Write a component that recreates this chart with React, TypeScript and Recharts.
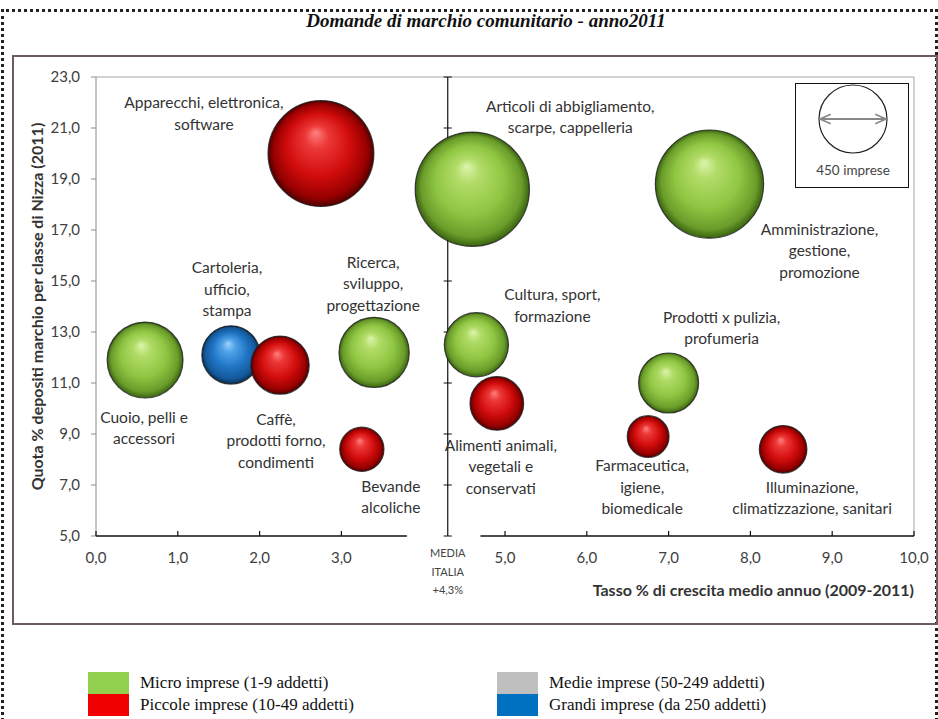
import React from "react";
import {
  ScatterChart,
  Scatter,
  XAxis,
  YAxis,
  ZAxis,
  ReferenceLine,
  LabelList,
  Label,
} from "recharts";

// growth: tasso % di crescita medio annuo 2009-2011
// share: quota % depositi marchio per classe di Nizza (2011)
// firms: numero di imprese (area della bolla)
const microImprese = [
  { name: "Articoli di abbigliamento,\nscarpe, cappelleria", growth: 4.6, share: 18.6, firms: 1270 },
  { name: "Amministrazione,\ngestione,\npromozione", growth: 7.5, share: 18.8, firms: 1140 },
  { name: "Cuoio, pelli e\naccessori", growth: 0.6, share: 11.9, firms: 560 },
  { name: "Ricerca,\nsviluppo,\nprogettazione", growth: 3.4, share: 12.2, firms: 480 },
  { name: "Cultura, sport,\nformazione", growth: 4.65, share: 12.5, firms: 400 },
  { name: "Prodotti x pulizia,\nprofumeria", growth: 7.0, share: 11.0, firms: 350 },
];

const piccoleImprese = [
  { name: "Apparecchi, elettronica,\nsoftware", growth: 2.75, share: 20.0, firms: 1090 },
  { name: "Caffè,\nprodotti forno,\ncondimenti", growth: 2.25, share: 11.7, firms: 330 },
  { name: "Bevande\nalcoliche", growth: 3.25, share: 8.4, firms: 190 },
  { name: "Alimenti animali,\nvegetali e\nconservati", growth: 4.9, share: 10.2, firms: 280 },
  { name: "Farmaceutica,\nigiene,\nbiomedicale", growth: 6.75, share: 8.9, firms: 170 },
  { name: "Illuminazione,\nclimatizzazione, sanitari", growth: 8.4, share: 8.4, firms: 220 },
];

const grandiImprese = [
  { name: "Cartoleria,\nufficio,\nstampa", growth: 1.65, share: 12.1, firms: 330 },
];

const MEDIA_ITALIA = 4.3;
const xTicks = [0, 1, 2, 3, MEDIA_ITALIA, 5, 6, 7, 8, 9, 10];
const yTicks = [5, 7, 9, 11, 13, 15, 17, 19, 21, 23];

// label placement (dx, dy of first line from bubble centre), same order as data
const microLabelPos = [[98, -83], [110, 45], [-1, 57], [-1, -90], [76, -50], [53, -66]];
const piccoleLabelPos = [[-117, -51], [-4, 54], [29, 37], [4, 42], [-6, 29], [29, 38]];
const grandiLabelPos = [[-4, -87]];

const legendItems = [
  { label: "Micro imprese (1-9 addetti)", color: "#92d050" },
  { label: "Piccole imprese (10-49 addetti)", color: "#f00000" },
  { label: "Medie imprese (50-249 addetti)", color: "#bfbfbf" },
  { label: "Grandi imprese (da 250 addetti)", color: "#0070c0" },
];

// bubble key: 450 imprese
const KEY_FIRMS = 450;
const KEY_RADIUS = 34;
const KEY_AREA = Math.PI * KEY_RADIUS * KEY_RADIUS;

const SANS = "Lato, 'Open Sans', sans-serif";
const SERIF = "'Liberation Serif', 'DejaVu Serif', serif";

const fmt = (v: number) => v.toFixed(1).replace(".", ",");

const sphere = (tone: string) => (props: any) => {
  const { cx, cy } = props;
  const r = props.width ? props.width / 2 : Math.sqrt(props.size / Math.PI);
  return (
    <circle
      cx={cx}
      cy={cy}
      r={r}
      fill={`url(#sphere-${tone})`}
      stroke="#1c1c1c"
      strokeOpacity={0.8}
      strokeWidth={1.2}
    />
  );
};

const bubbleLabel = (offsets: number[][]) => (props: any) => {
  const { index, value } = props;
  const vb = props.viewBox ?? props;
  const cx = vb.x + vb.width / 2;
  const cy = vb.y + vb.height / 2;
  const [dx, dy] = offsets[index] ?? [0, 0];
  const lines = String(value).split("\n");
  return (
    <text textAnchor="middle" fontFamily={SANS} fontSize={15.5} fill="#333">
      {lines.map((line, i) => (
        <tspan key={i} x={cx + dx} y={cy + dy + i * 21.5 + 5.5}>
          {line}
        </tspan>
      ))}
    </text>
  );
};

const XTick = (props: any) => {
  const { x, y, payload } = props;
  if (payload.value === MEDIA_ITALIA) {
    return (
      <text textAnchor="middle" fontFamily={SANS} fontSize={11} fill="#444">
        <tspan x={x} y={y + 21}>MEDIA</tspan>
        <tspan x={x} y={y + 40}>ITALIA</tspan>
        <tspan x={x} y={y + 58}>+4,3%</tspan>
      </text>
    );
  }
  return (
    <g>
      <line x1={x} x2={x} y1={y - 5} y2={y} stroke="#111" strokeWidth={1.2} />
      <text x={x} y={y + 27} textAnchor="middle" fontFamily={SANS} fontSize={15} fill="#404040">
        {fmt(payload.value)}
      </text>
    </g>
  );
};

const xTitle = (props: any) => {
  const vb = props.viewBox;
  return (
    <text
      x={vb.x + vb.width}
      y={vb.y + 60}
      textAnchor="end"
      fontFamily={SANS}
      fontSize={16}
      fontWeight={700}
      fill="#333"
    >
      Tasso % di crescita medio annuo (2009-2011)
    </text>
  );
};

const yTitle = (props: any) => {
  const vb = props.viewBox;
  const x = vb.x + 7;
  const y = vb.y + vb.height / 2;
  return (
    <text
      x={x}
      y={y}
      transform={`rotate(-90, ${x}, ${y})`}
      textAnchor="middle"
      fontFamily={SANS}
      fontSize={16}
      fontWeight={700}
      fill="#333"
    >
      Quota % depositi marchio per classe di Nizza (2011)
    </text>
  );
};

const sphereStops: Record<string, string[]> = {
  green: ["#dcf5ac", "#b2dc68", "#8fc642", "#6a9c2a", "#3a6410"],
  red: ["#ff8080", "#ec3838", "#d10c0c", "#980000", "#520000"],
  blue: ["#a0d2ff", "#50a3e8", "#1f74c4", "#14589a", "#0a2e52"],
};

export default function App() {
  return (
    <div
      style={{
        position: "absolute",
        left: 0,
        top: 0,
        width: 938,
        height: 719,
        background: "#fff",
        overflow: "hidden",
      }}
    >
      {/* dotted outer frame */}
      <div
        style={{
          position: "absolute",
          left: 1,
          top: 9,
          width: 931,
          height: 760,
          border: "3px dotted #222",
        }}
      />

      <div
        style={{
          position: "absolute",
          left: 486,
          top: 10,
          transform: "translateX(-50%)",
          whiteSpace: "nowrap",
          fontFamily: SERIF,
          fontStyle: "italic",
          fontWeight: 700,
          fontSize: 19,
          color: "#111",
        }}
      >
        Domande di marchio comunitario - anno2011
      </div>

      {/* chart frame */}
      <div
        style={{
          position: "absolute",
          left: 12,
          top: 55,
          width: 922,
          height: 566,
          border: "2px solid #6e5a60",
        }}
      />

      <div style={{ position: "absolute", left: 0, top: 0 }}>
        <ScatterChart
          width={938}
          height={719}
          margin={{ top: 77, right: 24, bottom: 153, left: 36 }}
        >
          <defs>
            {Object.entries(sphereStops).map(([tone, c]) => (
              <radialGradient
                key={tone}
                id={`sphere-${tone}`}
                cx="0.5"
                cy="0.5"
                r="0.5"
                fx="0.45"
                fy="0.3"
              >
                <stop offset="0" stopColor={c[0]} />
                <stop offset="0.22" stopColor={c[1]} />
                <stop offset="0.6" stopColor={c[2]} />
                <stop offset="0.88" stopColor={c[3]} />
                <stop offset="1" stopColor={c[4]} />
              </radialGradient>
            ))}
          </defs>
          <XAxis
            type="number"
            dataKey="growth"
            domain={[0, 10]}
            ticks={xTicks}
            interval={0}
            height={30}
            axisLine={false}
            tickLine={false}
            tickSize={0}
            tickMargin={0}
            tick={<XTick />}
          >
            <Label content={xTitle} />
          </XAxis>
          <YAxis
            type="number"
            dataKey="share"
            domain={[5, 23]}
            ticks={yTicks}
            interval={0}
            width={60}
            axisLine={{ stroke: "#8c8c8c" }}
            tickLine={{ stroke: "#8c8c8c" }}
            tickSize={5}
            tickMargin={11}
            tickFormatter={fmt}
            tick={{ fill: "#404040", fontSize: 15, fontFamily: SANS }}
          >
            <Label content={yTitle} />
          </YAxis>
          <ZAxis
            type="number"
            dataKey="firms"
            domain={[0, KEY_FIRMS * 4]}
            range={[0, KEY_AREA * 4]}
          />

          {/* plot border: top and right */}
          <ReferenceLine segment={[{ x: 0, y: 23 }, { x: 10, y: 23 }]} stroke="#a6a6a6" />
          <ReferenceLine segment={[{ x: 10, y: 5 }, { x: 10, y: 23 }]} stroke="#a6a6a6" />

          {/* x axis, broken around the national average */}
          <ReferenceLine segment={[{ x: 0, y: 5 }, { x: 3.8, y: 5 }]} stroke="#111" strokeWidth={1.5} />
          <ReferenceLine segment={[{ x: 4.7, y: 5 }, { x: 10, y: 5 }]} stroke="#111" strokeWidth={1.5} />

          {/* national average line with its own tick marks */}
          <ReferenceLine x={MEDIA_ITALIA} stroke="#111" strokeWidth={1.2} />
          {yTicks.map((t) => (
            <ReferenceLine
              key={t}
              segment={[
                { x: MEDIA_ITALIA - 0.05, y: t },
                { x: MEDIA_ITALIA + 0.05, y: t },
              ]}
              stroke="#111"
            />
          ))}

          <Scatter
            name="Grandi imprese"
            data={grandiImprese}
            shape={sphere("blue")}
            isAnimationActive={false}
          >
            <LabelList dataKey="name" content={bubbleLabel(grandiLabelPos)} />
          </Scatter>
          <Scatter
            name="Piccole imprese"
            data={piccoleImprese}
            shape={sphere("red")}
            isAnimationActive={false}
          >
            <LabelList dataKey="name" content={bubbleLabel(piccoleLabelPos)} />
          </Scatter>
          <Scatter
            name="Micro imprese"
            data={microImprese}
            shape={sphere("green")}
            isAnimationActive={false}
          >
            <LabelList dataKey="name" content={bubbleLabel(microLabelPos)} />
          </Scatter>
        </ScatterChart>
      </div>

      {/* bubble size key */}
      <div
        style={{
          position: "absolute",
          left: 795,
          top: 83,
          width: 112,
          height: 103,
          border: "1.5px solid #111",
          background: "#fff",
        }}
      >
        <svg width={112} height={103}>
          <defs>
            <marker
              id="key-arrow"
              viewBox="0 0 10 10"
              refX="9"
              refY="5"
              markerWidth="6"
              markerHeight="6"
              orient="auto-start-reverse"
            >
              <path d="M0,1 L9,5 L0,9" fill="none" stroke="#888" strokeWidth={1.5} />
            </marker>
          </defs>
          <circle cx={57} cy={35} r={KEY_RADIUS} fill="none" stroke="#222" strokeWidth={1.2} />
          <line
            x1={57 - KEY_RADIUS + 1}
            x2={57 + KEY_RADIUS - 1}
            y1={35}
            y2={35}
            stroke="#888"
            strokeWidth={2}
            markerStart="url(#key-arrow)"
            markerEnd="url(#key-arrow)"
          />
          <text x={57} y={91} textAnchor="middle" fontFamily={SANS} fontSize={13.5} fill="#444">
            {KEY_FIRMS} imprese
          </text>
        </svg>
      </div>

      {/* firm size legend */}
      {legendItems.map((item, i) => {
        const col = Math.floor(i / 2);
        const row = i % 2;
        return (
          <div
            key={item.label}
            style={{
              position: "absolute",
              left: 88 + col * 409,
              top: 672 + row * 22,
              height: 22,
              display: "flex",
              alignItems: "center",
            }}
          >
            <div style={{ width: 41, height: 22, background: item.color }} />
            <span
              style={{
                marginLeft: 11,
                fontFamily: SERIF,
                fontSize: 17,
                color: "#111",
                whiteSpace: "nowrap",
              }}
            >
              {item.label}
            </span>
          </div>
        );
      })}
    </div>
  );
}
